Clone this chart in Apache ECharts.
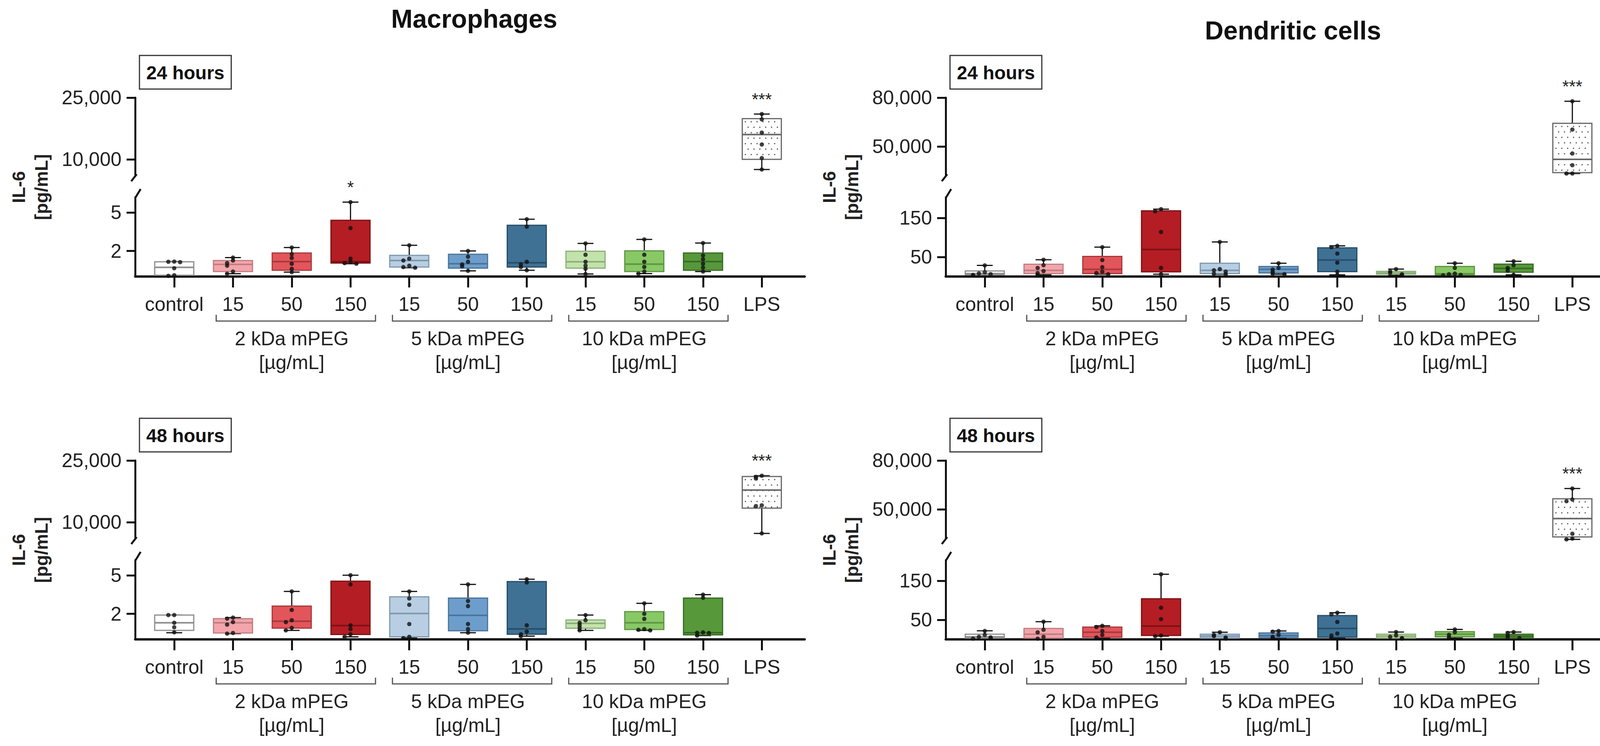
<!DOCTYPE html>
<html>
<head>
<meta charset="utf-8">
<script src="https://cdn.jsdelivr.net/npm/echarts@6/dist/echarts.min.js"></script>
<style>
  html, body { margin: 0; padding: 0; background: #fff; }
  #chart { width: 4164px; height: 1910px; }
</style>
</head>
<body>
<div id="chart"></div>
<script>
// categories and groups
const categories = ['control', '15', '50', '150', '15', '50', '150', '15', '50', '150', 'LPS'];
const groupSpans = [[1, 3], [4, 6], [7, 9]];
const groupNames = ['2 kDa mPEG', '5 kDa mPEG', '10 kDa mPEG'];
const groupUnit = '[µg/mL]';

const boxFill = ['#ffffff', '#f2a5aa', '#e2555b', '#b41d23', '#b7cee3', '#6d9ecb', '#3e7194', '#c2e3ac', '#88c865', '#57983b', 'dots'];
const boxLine = ['#8c8c8c', '#c27d82', '#a8383c', '#7c1216', '#7f98ae', '#4b7399', '#284e68', '#8cae7a', '#5e9443', '#386b24', '#666666'];

// box stats per category: [min, q1, median, q3, max]
const mac24Box = [
  [0.05, 0.1, 0.72, 1.15, 1.17], [0.22, 0.39, 0.95, 1.25, 1.48], [0.34, 0.49, 1.17, 1.84, 2.27],
  [1.0, 1.05, 1.17, 4.4, 5.82], [0.69, 0.74, 1.25, 1.66, 2.44], [0.44, 0.66, 1.0, 1.74, 2.0],
  [0.49, 0.74, 1.08, 4.01, 4.48], [0.2, 0.66, 1.15, 1.98, 2.59], [0.23, 0.39, 0.97, 2.01, 2.9],
  [0.39, 0.49, 1.17, 1.84, 2.62], [7530, 10000, 16030, 19900, 21000]
];
const mac24Points = [
  [1.17, 1.15, 1.12, 0.65, 0.1, 0.05], [1.48, 1.25, 1.05, 0.85, 0.39, 0.22], [2.27, 1.75, 1.45, 1.0, 0.6, 0.34],
  [5.82, 3.79, 1.4, 1.15, 1.05, 1.0], [2.44, 1.4, 1.25, 0.85, 0.74, 0.69], [2.0, 1.55, 1.15, 0.95, 0.8, 0.44],
  [4.48, 3.9, 1.15, 0.95, 0.74, 0.49], [2.59, 1.7, 1.15, 0.85, 0.6, 0.2], [2.9, 1.7, 1.15, 0.75, 0.39, 0.23],
  [2.62, 1.65, 1.35, 1.0, 0.7, 0.39], [21000, 19700, 16500, 13600, 10300, 7530]
];
const mac24Sig = ['', '', '', '*', '', '', '', '', '', '', '***'];

const mac48Box = [
  [0.52, 0.7, 1.3, 1.9, 1.9], [0.45, 0.5, 1.3, 1.62, 1.7], [0.7, 0.88, 1.42, 2.6, 3.75],
  [0.2, 0.38, 1.08, 4.55, 5.02], [0.1, 0.2, 2.02, 3.33, 3.75], [0.52, 0.67, 1.88, 3.23, 4.3],
  [0.25, 0.4, 0.82, 4.52, 4.7], [0.7, 0.87, 1.25, 1.52, 1.9], [0.7, 0.77, 1.3, 2.17, 2.82],
  [0.3, 0.35, 0.52, 3.23, 3.5], [7250, 13400, 17800, 21100, 21300]
];
const mac48Points = [
  [1.9, 1.9, 1.3, 0.95, 0.55], [1.7, 1.62, 1.35, 1.15, 0.5, 0.45], [3.75, 2.3, 1.5, 1.35, 0.9, 0.7],
  [5.02, 4.3, 1.1, 0.8, 0.4, 0.2], [3.75, 3.2, 2.7, 1.2, 0.2, 0.1], [4.3, 3.0, 2.6, 1.2, 0.8, 0.52],
  [4.7, 4.45, 1.1, 0.6, 0.4, 0.25], [1.9, 1.5, 1.3, 1.1, 0.9, 0.7], [2.82, 2.0, 1.6, 0.8, 0.75, 0.7],
  [3.5, 3.25, 0.55, 0.52, 0.5, 0.3], [21300, 21000, 20600, 14100, 13900, 7250]
];
const mac48Sig = ['', '', '', '', '', '', '', '', '', '', '***'];

const dc24Box = [
  [2.6, 4.3, 7.6, 14.2, 28.4], [4.3, 7.6, 15.8, 31.4, 42.9], [6, 7.6, 18.5, 51.5, 75.2],
  [6, 11.9, 69.3, 168.3, 172.6], [6, 7.6, 15.8, 34, 88.4], [6, 9.2, 18.5, 25.7, 34],
  [4.3, 12.5, 42.2, 73.6, 78.5], [3.3, 5.9, 9.2, 13.2, 19.1], [3.3, 4.3, 7, 25.7, 34],
  [4.3, 10.9, 20.8, 31.7, 39], [33400, 33900, 42100, 64200, 77800]
];
const dc24Points = [
  [28.4, 11, 8, 6, 4, 2.6], [42.9, 29, 22, 14, 9, 4.3], [75.2, 42, 24, 12.5, 9, 6],
  [172.6, 167, 114, 22, 6], [88.4, 19, 16, 12.5, 7.6, 6], [34, 22, 18, 12.5, 7.6, 6],
  [78.5, 75, 58.7, 35.6, 12.5, 4.3], [19.1, 13, 9.2, 6, 3.3], [34, 22, 7.6, 6, 4.3, 3.3],
  [39, 29, 22, 15, 4.3], [77800, 60400, 45700, 38500, 33400, 33400]
];
const dc24Sig = ['', '', '', '', '', '', '', '', '', '', '***'];

const dc48Box = [
  [1.7, 3.3, 6.6, 13.2, 22.1], [1.7, 3.3, 13.2, 28, 45.2], [4.3, 5.6, 18.2, 31.4, 34.7],
  [8.3, 9.9, 34, 104, 166.7], [1.7, 3.3, 8.3, 13.2, 18.2], [3.3, 5, 9.9, 16.5, 21.5],
  [3.3, 5.6, 28, 61, 68.3], [1.7, 3.3, 8.3, 13.2, 18.8], [3.3, 6.6, 13.2, 19.8, 25.4],
  [1.7, 3.3, 8.3, 13.2, 18.8], [31500, 33000, 44300, 56500, 62800]
];
const dc48Points = [
  [21.5, 11.5, 6.6, 5, 3.3, 1.7], [45.2, 24.8, 18, 6.6, 1.7], [34.7, 31.4, 21.5, 11.5, 5],
  [166.7, 80.9, 51.8, 9.9, 8.3], [18.2, 11.5, 8.3, 5, 1.7], [21.5, 19.8, 11.5, 6.6, 3.3],
  [68.3, 64, 44.6, 14.9, 9.9, 3.3], [18.8, 9.9, 6.6, 3.3, 1.7], [25.4, 18.2, 11.5, 5],
  [18.8, 16.5, 9.9, 5, 3.3], [62800, 56000, 55000, 35000, 32000, 31500]
];
const dc48Sig = ['', '', '', '', '', '', '', '', '', '', '***'];

// axis ranges and ticks
const macUpperRange = [6000, 25000];
const macLowerRange = [0, 6.2];
const dcUpperRange = [32000, 80000];
const dcLowerRange = [0, 203];
const macUpperTicks = [10000, 25000];
const macLowerTicks = [2, 5];
const dcUpperTicks = [50000, 80000];
const dcLowerTicks = [50, 150];

const FONT = "'Liberation Sans', Arial, Helvetica, sans-serif";
const INK = '#111';
const TEXT = '#222';

const panels = [
  { title: 'Macrophages', time: '24 hours', box: mac24Box, pts: mac24Points, sig: mac24Sig, up: macUpperRange, lo: macLowerRange, upTicks: macUpperTicks, loTicks: macLowerTicks, dx: 0, dy: 0 },
  { title: 'Dendritic cells', time: '24 hours', box: dc24Box, pts: dc24Points, sig: dc24Sig, up: dcUpperRange, lo: dcLowerRange, upTicks: dcUpperTicks, loTicks: dcLowerTicks, dx: 2075, dy: 0 },
  { title: null, time: '48 hours', box: mac48Box, pts: mac48Points, sig: mac48Sig, up: macUpperRange, lo: macLowerRange, upTicks: macUpperTicks, loTicks: macLowerTicks, dx: 0, dy: 929 },
  { title: null, time: '48 hours', box: dc48Box, pts: dc48Points, sig: dc48Sig, up: dcUpperRange, lo: dcLowerRange, upTicks: dcUpperTicks, loTicks: dcLowerTicks, dx: 2075, dy: 929 }
];

const AX_LEFT = 346, AX_WIDTH = 1714;
const X_MIN = -0.665, X_MAX = 10.73;
const catIdx = categories.map((c, i) => i);

function jitter(values, tol) {
  const offs = [0, -0.1, 0.1, -0.2, 0.2, -0.3];
  return values.map((v, k) => {
    let c = 0;
    for (let j = 0; j < k; j++) if (Math.abs(values[j] - v) < tol) c++;
    return offs[Math.min(c, offs.length - 1)];
  });
}

function boxRenderer(sigs) {
  return function (params, api) {
    const i = api.value(0);
    const cx = api.coord([i, api.value(3)])[0];
    const yLo = api.coord([i, api.value(1)])[1];
    const yQ1 = api.coord([i, api.value(2)])[1];
    const yMed = api.coord([i, api.value(3)])[1];
    const yQ3 = api.coord([i, api.value(4)])[1];
    const yHi = api.coord([i, api.value(5)])[1];
    const half = api.size([0.665, 0])[0] / 2;
    const cap = api.size([0.27, 0])[0] / 2;
    const dotted = boxFill[i] === 'dots';
    const kids = [
      { type: 'line', shape: { x1: cx, y1: yLo, x2: cx, y2: yHi }, style: { stroke: INK, lineWidth: 3 } },
      { type: 'line', shape: { x1: cx - cap, y1: yLo, x2: cx + cap, y2: yLo }, style: { stroke: INK, lineWidth: 3 } },
      { type: 'line', shape: { x1: cx - cap, y1: yHi, x2: cx + cap, y2: yHi }, style: { stroke: INK, lineWidth: 3 } },
      { type: 'rect', shape: { x: cx - half, y: yQ3, width: half * 2, height: Math.max(yQ1 - yQ3, 1) },
        style: { fill: dotted ? '#fff' : boxFill[i], stroke: boxLine[i], lineWidth: 3 } }
    ];
    if (dotted) {
      let row = 0;
      for (let y = yQ3 + 8; y < yQ1 - 3; y += 14, row++) {
        for (let x = cx - half + 8 + (row % 2) * 7; x < cx + half - 3; x += 15) {
          kids.push({ type: 'circle', shape: { cx: x, cy: y, r: 1.7 }, style: { fill: '#555' } });
        }
      }
    }
    kids.push({ type: 'line', shape: { x1: cx - half, y1: yMed, x2: cx + half, y2: yMed }, style: { stroke: boxLine[i], lineWidth: 4 } });
    if (sigs[i]) {
      kids.push({ type: 'text', style: { text: sigs[i], x: cx, y: yHi - 38, align: 'center', verticalAlign: 'middle',
        fontSize: 44, fontFamily: FONT, fill: TEXT } });
    }
    return { type: 'group', children: kids };
  };
}

function bracketRenderer(params, api) {
  const a = api.coord([api.value(0), 0]);
  const b = api.coord([api.value(1), 0]);
  const mid = api.coord([(api.value(0) + api.value(1)) / 2, 0])[0];
  const base = a[1];
  const x1 = a[0] - 43, x2 = b[0] + 64, yb = base + 114;
  const name = groupNames[params.dataIndex];
  return { type: 'group', children: [
    { type: 'polyline', shape: { points: [[x1, yb - 16], [x1, yb], [x2, yb], [x2, yb - 16]] }, style: { stroke: '#555', lineWidth: 3, fill: null } },
    { type: 'text', style: { text: name, x: mid, y: base + 159, align: 'center', verticalAlign: 'middle', fontSize: 50, fontFamily: FONT, fill: TEXT } },
    { type: 'text', style: { text: groupUnit, x: mid, y: base + 220, align: 'center', verticalAlign: 'middle', fontSize: 50, fontFamily: FONT, fill: TEXT } }
  ] };
}

const grid = [], xAxis = [], yAxis = [], series = [], graphic = [];

panels.forEach((p, pi) => {
  const gUp = pi * 2, gLo = pi * 2 + 1;
  grid.push({ left: AX_LEFT + p.dx, top: 250 + p.dy, width: AX_WIDTH, height: 200 });
  grid.push({ left: AX_LEFT + p.dx, top: 505 + p.dy, width: AX_WIDTH, height: 203 });

  [gUp, gLo].forEach(g => {
    const lower = g === gLo;
    xAxis.push({
      gridIndex: g, type: 'value', min: X_MIN, max: X_MAX, show: lower,
      axisLine: { onZero: false, lineStyle: { color: INK, width: 6 } },
      axisTick: { customValues: catIdx, length: 28, lineStyle: { color: INK, width: 5 } },
      axisLabel: { customValues: catIdx, formatter: v => categories[Math.round(v)], margin: 46,
        fontSize: 50, fontFamily: FONT, color: TEXT },
      splitLine: { show: false }
    });
    const rng = lower ? p.lo : p.up;
    const ticks = lower ? p.loTicks : p.upTicks;
    yAxis.push({
      gridIndex: g, type: 'value', min: rng[0], max: rng[1],
      axisLine: { show: true, onZero: false, lineStyle: { color: INK, width: 5 } },
      axisTick: { show: true, customValues: ticks, length: 22, lineStyle: { color: INK, width: 5 } },
      axisLabel: { customValues: ticks, formatter: v => v.toLocaleString('en-US'), margin: 35,
        fontSize: 50, fontFamily: FONT, color: TEXT },
      splitLine: { show: false }
    });

    const idx = lower ? catIdx.slice(0, 10) : [10];
    const tol = (rng[1] - rng[0]) * 0.035;
    series.push({
      type: 'custom', xAxisIndex: g, yAxisIndex: g, clip: false, z: 2,
      renderItem: boxRenderer(p.sig),
      encode: { x: 0, y: [1, 2, 3, 4, 5] },
      data: idx.map(i => [i].concat(p.box[i]))
    });
    const pts = [];
    idx.forEach(i => {
      const off = jitter(p.pts[i], tol);
      p.pts[i].forEach((v, k) => pts.push([i + off[k], v]));
    });
    series.push({
      type: 'scatter', xAxisIndex: g, yAxisIndex: g, clip: false, z: 5,
      symbol: 'circle', symbolSize: 11, itemStyle: { color: INK },
      data: pts
    });
  });

  series.push({
    type: 'custom', xAxisIndex: gLo, yAxisIndex: gLo, clip: false, z: 2,
    renderItem: bracketRenderer, encode: { x: [0, 1] },
    data: groupSpans
  });

  // axis break marks
  const ax = AX_LEFT + p.dx;
  graphic.push({ type: 'line', shape: { x1: ax - 10, y1: 464 + p.dy, x2: ax + 4, y2: 446 + p.dy }, style: { stroke: INK, lineWidth: 5 } });
  graphic.push({ type: 'line', shape: { x1: ax, y1: 507 + p.dy, x2: ax + 14, y2: 484 + p.dy }, style: { stroke: INK, lineWidth: 5 } });

  // time label box
  graphic.push({ type: 'rect', shape: { x: 357 + p.dx, y: 142 + p.dy, width: 235, height: 86 },
    style: { fill: '#fff', stroke: '#333', lineWidth: 3 } });
  graphic.push({ type: 'text', x: 474.5 + p.dx, y: 186 + p.dy,
    style: { text: p.time, align: 'center', verticalAlign: 'middle', fontSize: 48, fontWeight: 'bold', fontFamily: FONT, fill: INK } });

  // y axis name
  graphic.push({ type: 'text', x: 77 + p.dx, y: 479 + p.dy, rotation: Math.PI / 2,
    style: { text: 'IL-6\n[pg/mL]', align: 'center', verticalAlign: 'middle', fontSize: 46, lineHeight: 58,
      fontWeight: 'bold', fontFamily: FONT, fill: TEXT } });

  if (p.title) {
    graphic.push({ type: 'text', x: pi === 0 ? 1214 : 3310, y: pi === 0 ? 48 : 78,
      style: { text: p.title, align: 'center', verticalAlign: 'middle', fontSize: 66, fontWeight: 'bold', fontFamily: FONT, fill: INK } });
  }
});

const chart = echarts.init(document.getElementById('chart'), null, { renderer: 'svg' });
chart.setOption({
  backgroundColor: '#fff',
  animation: false,
  grid: grid,
  xAxis: xAxis,
  yAxis: yAxis,
  series: series,
  graphic: graphic
});
</script>
</body>
</html>
